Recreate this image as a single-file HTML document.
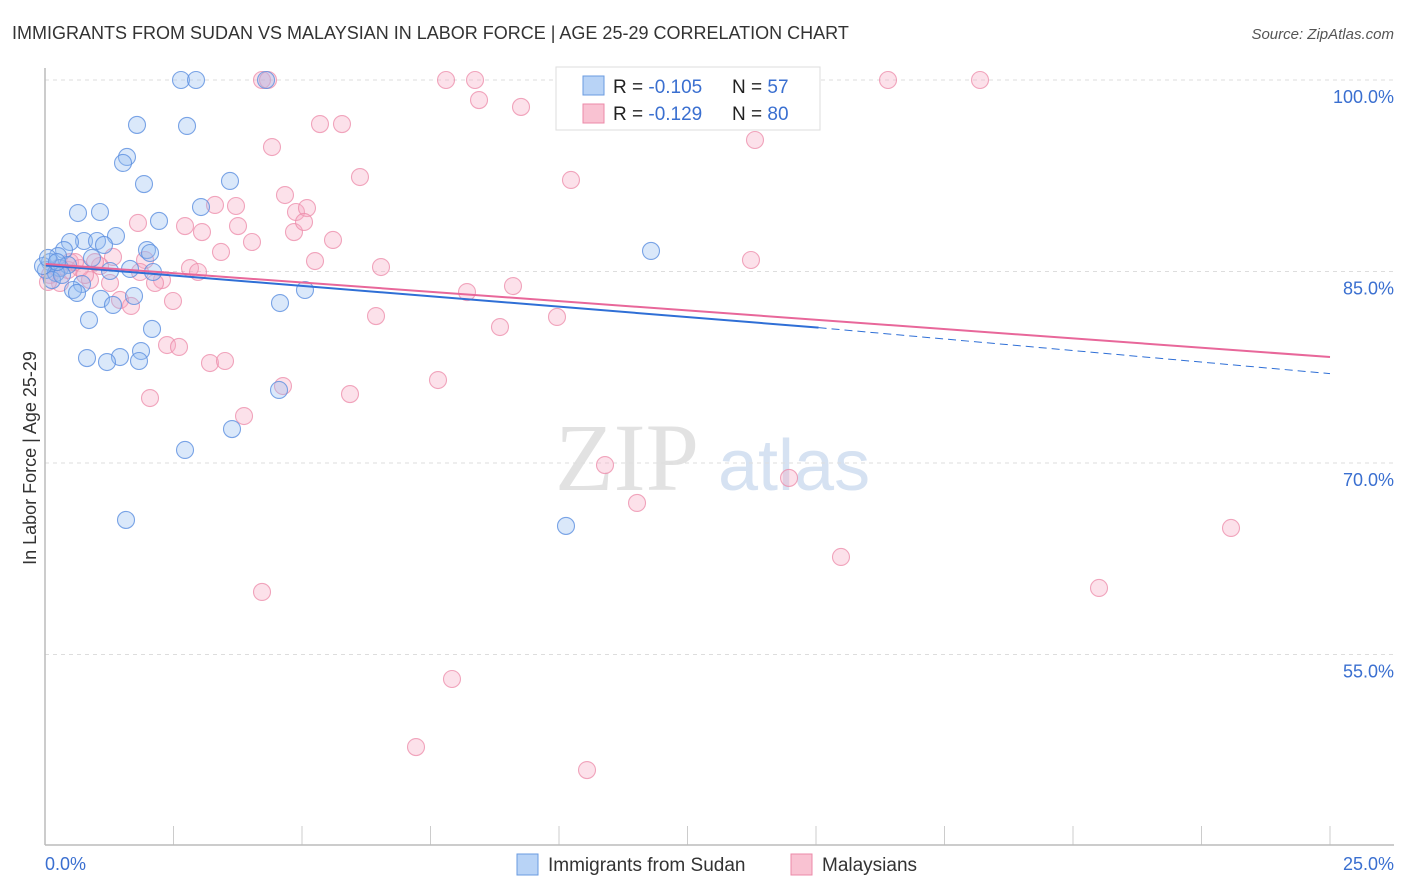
<!DOCTYPE html>
<html><head><meta charset="utf-8"><style>
body{margin:0;background:#fff;font-family:"Liberation Sans",sans-serif;}
#wrap{position:relative;width:1406px;height:892px;overflow:hidden;}
</style></head><body>
<div id="wrap">
<svg id="svg" width="1406" height="892" xmlns="http://www.w3.org/2000/svg">
<text x="12" y="39" font-size="18" fill="#333">IMMIGRANTS FROM SUDAN VS MALAYSIAN IN LABOR FORCE | AGE 25-29 CORRELATION CHART</text>
<text x="1394" y="39" font-size="15" fill="#555" text-anchor="end" font-style="italic">Source: ZipAtlas.com</text>
<text x="36" y="458" font-size="18" fill="#333" text-anchor="middle" transform="rotate(-90 36 458)">In Labor Force | Age 25-29</text>
<g>
<text x="555" y="490" font-size="96" fill="#e2e2e2" font-family="Liberation Serif,serif">ZIP</text>
<text x="718" y="490" font-size="72" fill="#d6e2f2">atlas</text>
</g>
<g id="grid"></g><g id="pts"></g><g id="lines"></g>
<line x1="45" y1="845" x2="1394" y2="845" stroke="#bbb" stroke-width="1.5"/>
<line x1="45" y1="68" x2="45" y2="845" stroke="#bbb" stroke-width="1.5"/>
<text x="45" y="870" font-size="18" fill="#3a6fd0">0.0%</text>
<text x="1394" y="870" font-size="18" fill="#3a6fd0" text-anchor="end">25.0%</text>
<g>
<rect x="556" y="67" width="264" height="63" fill="#fff" stroke="#ddd"/>
<rect x="583" y="76" width="21" height="19" fill="#b8d3f6" stroke="#6a9be0"/>
<rect x="583" y="104" width="21" height="19" fill="#f9c2d2" stroke="#ec8aa8"/>
<text x="613" y="93" font-size="19" fill="#222">R = <tspan fill="#3a6fd0">-0.105</tspan><tspan x="732">N = </tspan><tspan fill="#3a6fd0">57</tspan></text>
<text x="613" y="120" font-size="19" fill="#222">R = <tspan fill="#3a6fd0"> -0.129</tspan><tspan x="732">N = </tspan><tspan fill="#3a6fd0">80</tspan></text>
</g>
<g>
<rect x="517" y="854" width="21" height="21" fill="#b8d3f6" stroke="#6a9be0"/>
<text x="548" y="871" font-size="19" fill="#333">Immigrants from Sudan</text>
<rect x="791" y="854" width="21" height="21" fill="#f9c2d2" stroke="#ec8aa8"/>
<text x="822" y="871" font-size="19" fill="#333">Malaysians</text>
</g>
</svg>
</div>
<script>
const yTicks=[100,85,70,55];
const yTickLabels=["100.0%","85.0%","70.0%","55.0%"];
const xTicks=[0,2.5,5,7.5,10,12.5,15,17.5,20,22.5,25];
const bluePx=[[181,80],[196,80],[266,80],[137,125],[187,126],[127,157],[123,163],[144,184],[230,181],[78,213],[100,212],[159,221],[201,207],[116,236],[84,241],[97,241],[70,242],[64,250],[104,245],[147,250],[150,253],[58,256],[92,258],[50,262],[60,268],[68,265],[46,270],[56,273],[130,269],[110,271],[153,272],[82,284],[73,290],[77,293],[101,299],[134,296],[113,305],[280,303],[305,290],[89,320],[152,329],[141,351],[87,358],[120,357],[107,362],[139,361],[279,390],[232,429],[185,450],[126,520],[566,526],[651,251],[52,280],[62,275],[43,266],[48,258],[57,262]];
const pinkPx=[[262,80],[268,80],[446,80],[475,80],[575,80],[771,80],[888,80],[980,80],[479,100],[521,107],[320,124],[342,124],[755,140],[272,147],[360,177],[571,180],[285,195],[296,212],[307,208],[215,205],[236,206],[138,223],[185,226],[202,232],[294,232],[238,226],[304,222],[333,240],[252,242],[221,252],[145,260],[315,261],[381,267],[751,260],[190,268],[198,272],[113,257],[100,266],[70,262],[80,268],[90,280],[110,283],[162,280],[155,283],[120,300],[131,306],[173,301],[467,292],[513,286],[500,327],[557,317],[376,316],[167,345],[179,347],[210,363],[225,361],[283,386],[350,394],[438,380],[150,398],[244,416],[605,465],[637,503],[789,478],[841,557],[1231,528],[1099,588],[262,592],[452,679],[416,747],[587,770],[60,283],[50,275],[58,268],[68,270],[75,262],[48,282],[85,275],[95,262],[140,272]];
const blueX=bluePx.map(p=>+((p[0]-45)/1285*25).toFixed(3));
const blueY=bluePx.map(p=>+(100-(p[1]-80)/191.5*15).toFixed(2));
const pinkX=pinkPx.map(p=>+((p[0]-45)/1285*25).toFixed(3));
const pinkY=pinkPx.map(p=>+(100-(p[1]-80)/191.5*15).toFixed(2));
const blueTrend=[85.5,80.6,77.0];
const pinkTrend=[85.6,78.3];
const xs=v=>45+v/25*1285;
const ys=v=>80+(100-v)/15*191.5;
const NS="http://www.w3.org/2000/svg";
function mk(tag,attrs,parent){const e=document.createElementNS(NS,tag);for(const k in attrs)e.setAttribute(k,attrs[k]);parent.appendChild(e);return e;}
const grid=document.getElementById('grid');
yTicks.forEach((t,i)=>{
 const l=mk('line',{x1:45,x2:1394,y1:ys(t),y2:ys(t),stroke:'#ddd','stroke-dasharray':'4 4'},grid);
 
 
 const tx=mk('text',{x:1394,y:ys(t)+23,'font-size':18,fill:'#3a6fd0','text-anchor':'end'},grid);
 tx.textContent=yTickLabels[i];
 
 
});
xTicks.forEach(t=>{
 const l=mk('line',{x1:xs(t),x2:xs(t),y1:826,y2:845,stroke:'#ccc'},grid);
 
 
});
const pts=document.getElementById('pts');
pinkX.forEach((x,i)=>{
 const c=mk('circle',{cx:xs(x),cy:ys(pinkY[i]),r:8.5,fill:'rgba(246,170,195,0.35)',stroke:'rgba(236,138,168,0.75)','stroke-width':1.1},pts);
 
 
});
blueX.forEach((x,i)=>{
 const c=mk('circle',{cx:xs(x),cy:ys(blueY[i]),r:8.5,fill:'rgba(150,190,240,0.35)',stroke:'rgba(91,142,224,0.8)','stroke-width':1.1},pts);
 
 
});
const lines=document.getElementById('lines');
let l1=mk('line',{x1:xs(0),y1:ys(blueTrend[0]),x2:xs(15.05),y2:ys(blueTrend[1]),stroke:'#2f6fd6','stroke-width':2},lines);


let l2=mk('line',{x1:xs(15.05),y1:ys(blueTrend[1]),x2:xs(25),y2:ys(blueTrend[2]),stroke:'#2f6fd6','stroke-width':1,'stroke-dasharray':'8 5'},lines);


let l3=mk('line',{x1:xs(0),y1:ys(pinkTrend[0]),x2:xs(25),y2:ys(pinkTrend[1]),stroke:'#e8679a','stroke-width':2},lines);


</script>
</body></html>
